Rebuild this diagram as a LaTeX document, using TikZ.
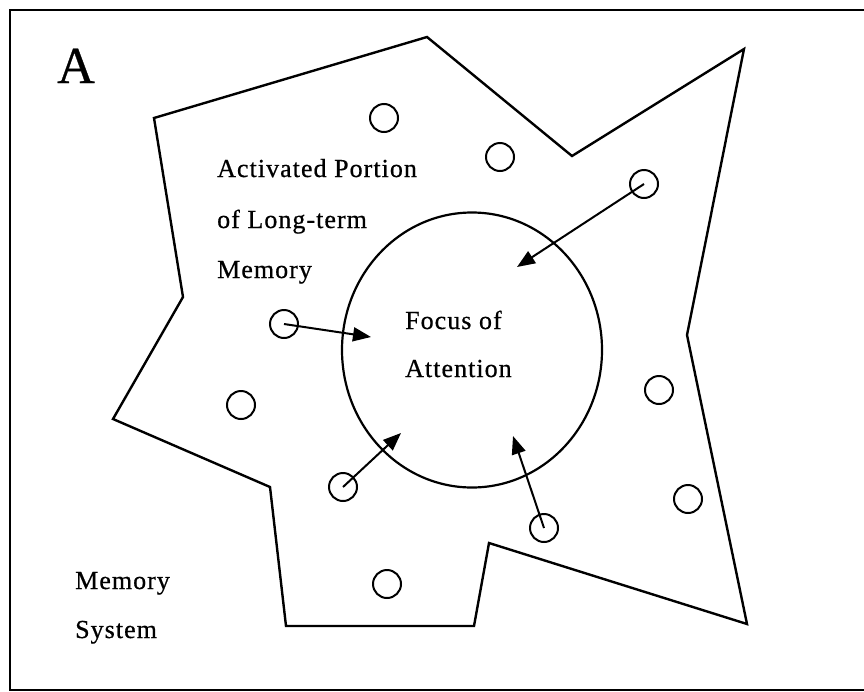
\documentclass[tikz,border=0pt]{standalone}
\usepackage{fontspec}
\setmainfont{Liberation Serif}
\newfontfamily\lblfont[LetterSpace=4,FakeBold=0.6]{Liberation Serif}
\newfontfamily\bigfont[FakeBold=0.6]{Liberation Serif}
\usetikzlibrary{arrows.meta,shapes.geometric}
\tikzset{
  frameline/.style={line width=2.6pt},
  region/.style={line width=2.4pt, line join=miter},
  item/.style={circle, draw, line width=2pt, minimum size=28pt, inner sep=0pt},
  focusring/.style={ellipse, draw, line width=2.2pt, minimum width=260pt, minimum height=275pt, inner sep=0pt},
  link/.style={line width=2pt, -{Triangle[length=18pt,width=14pt]}},
  lbl/.style={anchor=base west, inner sep=0pt, font=\lblfont\fontsize{26}{30}\selectfont},
  biglbl/.style={anchor=base west, inner sep=0pt, font=\bigfont\fontsize{52}{56}\selectfont}
}
\begin{document}
\begin{tikzpicture}[x=1pt,y=-1pt]
\useasboundingbox (0,0) rectangle (864,691);
\fill[white] (0,0) rectangle (864,691);
% outer frame (right side cropped)
\draw[frameline] (870,10) -- (10,10) -- (10,690) -- (870,690);
% activated region
\draw[region] (154,118) -- (427,37) -- (572,156) -- (744,49) -- (687,335) -- (747,624)
  -- (489,543) -- (474,626) -- (286,626) -- (270,487) -- (113,419) -- (183,297) -- cycle;
% focus of attention
\node[focusring] (focus) at (472,350) {};
% items
\node[item] (c1) at (384,118) {};
\node[item] (c2) at (500,157) {};
\node[item] (c3) at (644,184) {};
\node[item] (c4) at (284,324) {};
\node[item] (c5) at (241,405) {};
\node[item] (c6) at (659,390) {};
\node[item] (c7) at (343,487) {};
\node[item] (c8) at (544,528) {};
\node[item] (c9) at (688,499) {};
\node[item] (c10) at (387,584) {};
% arrow targets
\coordinate (t3) at (517,267);
\coordinate (t4) at (371,337);
\coordinate (t7) at (401,433);
\coordinate (t8) at (513,436);
\draw[link] (c3.center) -- (t3);
\draw[link] (c4.center) -- (t4);
\draw[link] (c7.center) -- (t7);
\draw[link] (c8.center) -- (t8);
% labels
\node[biglbl] (lA) at (57,83) {A};
\node[lbl] (l1) at (217,177) {Activated Portion};
\node[lbl] (l2) at (217,228) {of Long-term};
\node[lbl] (l3) at (217,278) {Memory};
\node[lbl] (f1) at (405,329) {Focus of};
\node[lbl] (f2) at (405,377) {Attention};
\node[lbl] (m1) at (75,589) {Memory};
\node[lbl] (m2) at (75,638) {System};
\end{tikzpicture}
\end{document}
